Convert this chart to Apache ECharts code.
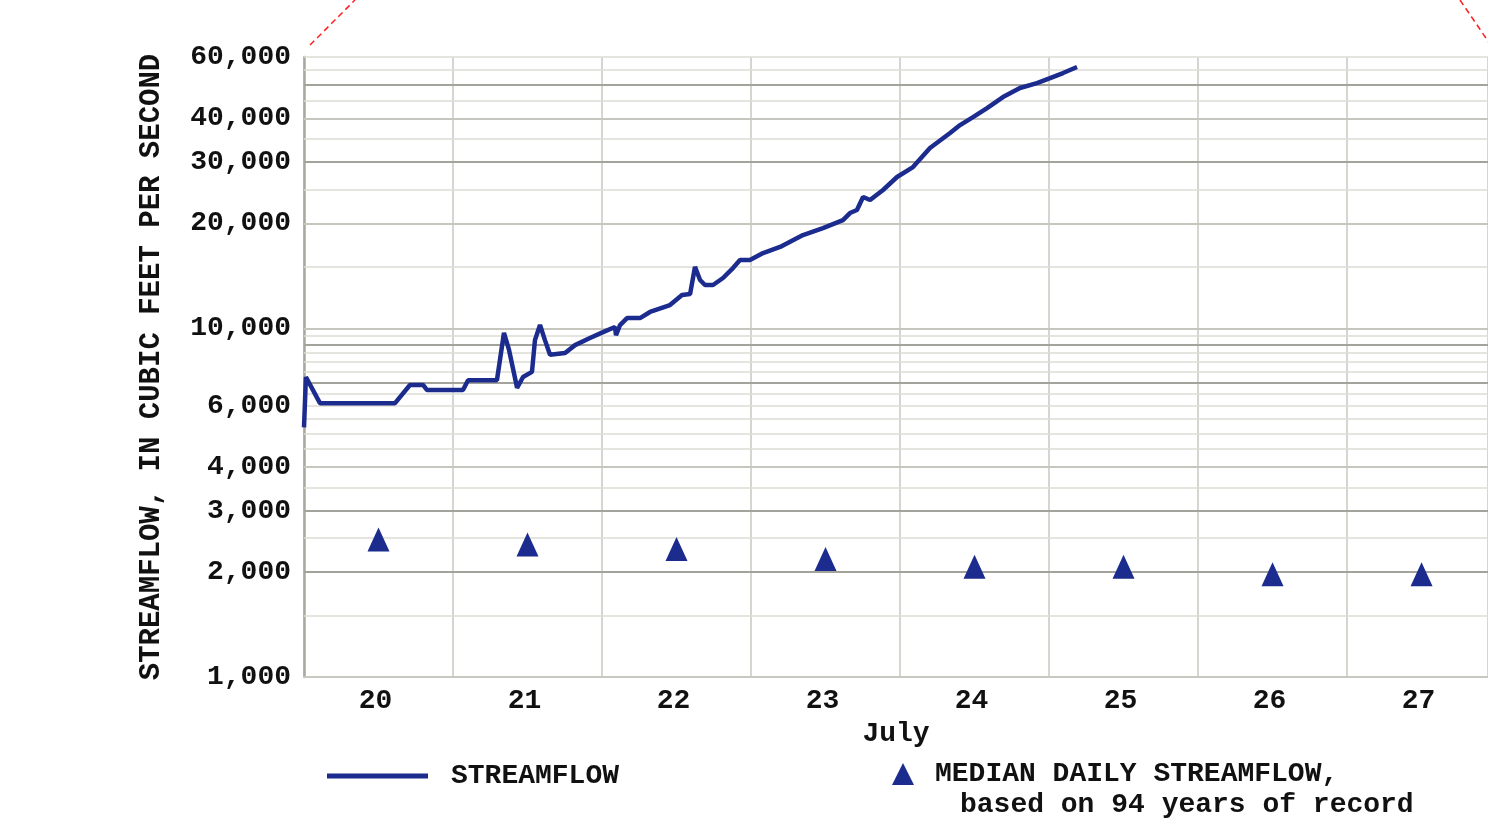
<!DOCTYPE html>
<html><head><meta charset="utf-8">
<script src="https://cdn.jsdelivr.net/npm/echarts@6/dist/echarts.min.js"></script>
<style>html,body{margin:0;padding:0;background:#fff}#c{width:1488px;height:823px}</style>
</head><body><div id="c"></div>
<script>
// x values: day of July (20.0 = July 20 00:00)
const flowDays = [20.000,20.013,20.107,20.611,20.644,20.711,20.799,20.826,21.067,21.101,21.295,21.342,21.376,21.430,21.470,21.530,21.550,21.584,21.617,21.651,21.752,21.819,21.919,22.007,22.087,22.094,22.121,22.168,22.255,22.322,22.456,22.537,22.591,22.624,22.658,22.691,22.745,22.812,22.879,22.926,22.993,23.081,23.195,23.349,23.483,23.617,23.664,23.711,23.752,23.799,23.886,23.980,24.087,24.201,24.336,24.403,24.490,24.584,24.691,24.805,24.919,25.007,25.094,25.188];
const flowValues = [5200,7250,6100,6100,6350,6880,6880,6650,6650,7100,7100,9700,8670,6750,7250,7500,9250,10220,9250,8400,8500,8950,9380,9750,10090,9550,10220,10700,10700,11140,11660,12460,12540,15000,13760,13310,13310,13940,14890,15700,15700,16440,17110,18520,19390,20440,21410,21840,23800,23330,24930,27160,29010,32890,36320,38280,40360,42830,46060,48900,50520,52210,53970,56150];
const medianDays = [20.5,21.5,22.5,23.5,24.5,25.5,26.5,27.5];
const medianValues = [2480,2400,2330,2180,2070,2070,1970,1970];
const yLabelValues = [1000,2000,3000,4000,6000,10000,20000,30000,40000,60000];
const xLabelValues = [20.48,21.48,22.48,23.48,24.48,25.48,26.48,27.48];
const hGridValues = [1500,2000,2500,3000,3500,4000,4500,5000,5500,6000,6500,7000,7500,8000,8500,9000,9500,10000,15000,20000,25000,30000,35000,40000,45000,50000,55000,60000];
const darkGrid = [2000,3000,7000,9000,30000,50000];
const midGrid = [4000,10000,20000,40000];

const FONT = "'Liberation Mono', 'DejaVu Sans Mono', monospace";
const BLUE = '#1c2b8e';
const fmt = v => String(v).replace(/\B(?=(\d{3})+(?!\d))/g, ',');

const chart = echarts.init(document.getElementById('c'), null, {renderer: 'canvas'});
const gridLines = hGridValues.map(v => ({
  yAxis: v,
  lineStyle: darkGrid.includes(v) ? {color: '#a3a39b', width: 2.2, type: 'solid'}
    : midGrid.includes(v) ? {color: '#c6c6be', width: 2, type: 'solid'}
    : {color: '#dcdcd6', width: 1.6, type: 'solid'}
}));

chart.setOption({
  animation: false,
  backgroundColor: '#ffffff',
  grid: {left: 304, top: 57, bottom: 146, right: 0, show: false},
  xAxis: {
    type: 'value', min: 20, max: 27.946, interval: 1,
    name: 'July', nameLocation: 'middle', nameGap: 42,
    nameTextStyle: {fontFamily: FONT, fontWeight: 'bold', fontSize: 28, color: '#111'},
    axisLine: {show: true, onZero: false, lineStyle: {color: '#c8c8c0', width: 2}},
    axisTick: {show: false},
    axisLabel: {customValues: xLabelValues, formatter: v => String(Math.floor(v)),
      fontFamily: FONT, fontWeight: 'bold', fontSize: 28, color: '#111', margin: 10},
    splitLine: {show: true, lineStyle: {color: '#d6d6d0', width: 2}}
  },
  yAxis: {
    type: 'log', logBase: 10, min: 1000, max: 60000,
    name: 'STREAMFLOW, IN CUBIC FEET PER SECOND', nameLocation: 'middle', nameGap: 138,
    nameTextStyle: {fontFamily: FONT, fontWeight: 'bold', fontSize: 29, color: '#111'},
    axisLine: {show: true, lineStyle: {color: '#a8a8a0', width: 2.5}},
    axisTick: {show: false},
    axisLabel: {customValues: yLabelValues, formatter: v => fmt(v),
      fontFamily: FONT, fontWeight: 'bold', fontSize: 28, color: '#111', margin: 13},
    splitLine: {show: false}
  },
  legend: [
    {left: 327, top: 762, padding: 0, itemWidth: 101, itemHeight: 5, icon: 'rect',
     data: ['STREAMFLOW'],
     textStyle: {fontFamily: FONT, fontWeight: 'bold', fontSize: 28, color: '#111', padding: [0, 0, 0, 18]}},
    {left: 892, top: 760, padding: 0, itemWidth: 22, itemHeight: 22, icon: 'triangle',
     data: ['MEDIAN DAILY STREAMFLOW,'],
     textStyle: {fontFamily: FONT, fontWeight: 'bold', fontSize: 28, color: '#111', padding: [0, 0, 0, 16]}}
  ],
  graphic: [
    {type: 'text', left: 960, top: 791, silent: true,
     style: {text: 'based on 94 years of record', font: "bold 28px 'Liberation Mono', monospace", fill: '#111'}},
    {type: 'line', silent: true, shape: {x1: 310, y1: 45, x2: 355, y2: 0},
     style: {stroke: '#ff2020', lineWidth: 1.5, lineDash: [6, 4]}},
    {type: 'line', silent: true, shape: {x1: 1460, y1: 0, x2: 1490, y2: 44},
     style: {stroke: '#ff2020', lineWidth: 1.5, lineDash: [6, 4]}}
  ],
  series: [
    {name: 'grid', type: 'line', data: [], z: 1, silent: true,
     markLine: {silent: true, symbol: ['none', 'none'], label: {show: false}, animation: false, data: gridLines}},
    {name: 'STREAMFLOW', type: 'line', z: 5, showSymbol: false, color: BLUE,
     lineStyle: {color: BLUE, width: 4.5},
     data: flowDays.map((d, i) => [d, flowValues[i]])},
    {name: 'MEDIAN DAILY STREAMFLOW,', type: 'scatter', z: 5, symbol: 'triangle', symbolSize: [22, 24],
     color: BLUE, itemStyle: {color: BLUE, opacity: 1},
     data: medianDays.map((d, i) => [d, medianValues[i]])}
  ]
});
</script></body></html>
